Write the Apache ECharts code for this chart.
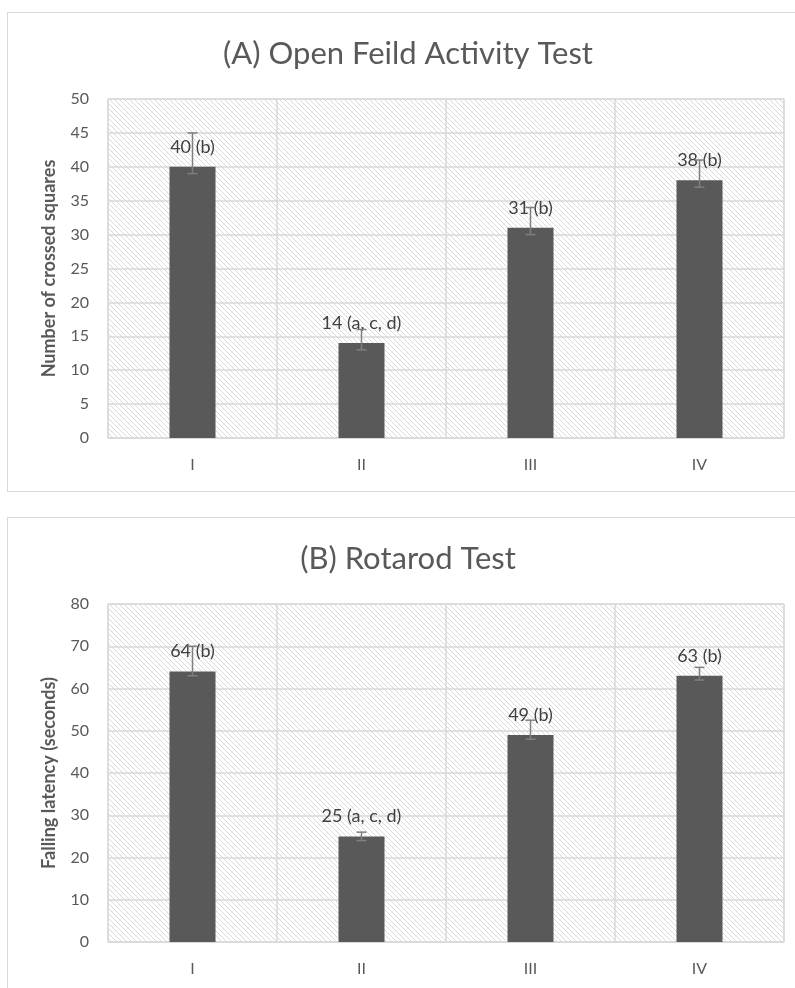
<!DOCTYPE html>
<html>
<head>
<meta charset="utf-8">
<script src="https://cdn.jsdelivr.net/npm/echarts@6/dist/echarts.min.js"></script>
<style>
  html, body { margin: 0; padding: 0; background: #fff; overflow: hidden; width: 795px; height: 988px; }
  .box { position: absolute; left: 7px; width: 800px; height: 478px; border: 1px solid #d9d9d9; }
  .chart { width: 800px; height: 478px; }
</style>
</head>
<body>
<div class="box" style="top:12px"><div id="chartA" class="chart"></div></div>
<div class="box" style="top:517px"><div id="chartB" class="chart"></div></div>
<script>
const categories = ['I', 'II', 'III', 'IV'];

// (A) 旷场试验
const openFieldValues = [40, 14, 31, 38];
const openFieldLabels = ['40 (b)', '14 (a, c, d)', '31 (b)', '38 (b)'];
const openFieldErrLow = [39, 13, 30, 37];
const openFieldErrHigh = [45, 16, 34, 41];

// (B) 转棒试验
const rotarodValues = [64, 25, 49, 63];
const rotarodLabels = ['64 (b)', '25 (a, c, d)', '49 (b)', '63 (b)'];
const rotarodErrLow = [63, 24, 48, 62];
const rotarodErrHigh = [70, 26, 52.5, 65];

// 斜线底纹
const makeHatch = () => {
    const n = 5;
    const c = document.createElement('canvas');
    c.width = n;
    c.height = n;
    const ctx = c.getContext('2d');
    ctx.fillStyle = '#fff';
    ctx.fillRect(0, 0, n, n);
    ctx.fillStyle = '#dadada';
    for (let i = 0; i < n; i++) ctx.fillRect(i, i, 1, 1);
    return { image: c, repeat: 'repeat' };
};

const fontFamily = 'Lato, "Open Sans", sans-serif';

const makeOption = (title, yName, values, labels, low, high, max, interval) => ({
    animation: false,
    textStyle: { fontFamily: fontFamily },
    title: {
        text: title,
        left: 'center',
        top: 20,
        textStyle: { fontFamily: fontFamily, fontSize: 31, fontWeight: 'normal', color: '#595959' }
    },
    grid: {
        show: true,
        left: 100,
        top: 86,
        width: 676,
        height: 339,
        borderColor: '#d9d9d9',
        borderWidth: 1,
        backgroundColor: makeHatch()
    },
    xAxis: {
        type: 'category',
        data: categories,
        axisTick: { show: false },
        axisLine: { lineStyle: { color: '#d9d9d9', width: 1 } },
        axisLabel: { color: '#595959', fontSize: 16, margin: 19 },
        splitLine: { show: true, lineStyle: { color: '#d9d9d9', width: 1.5 } }
    },
    yAxis: {
        type: 'value',
        min: 0,
        max: max,
        interval: interval,
        name: yName,
        nameLocation: 'middle',
        nameGap: 50,
        nameTextStyle: { color: '#595959', fontSize: 18, fontWeight: 'bold' },
        axisLine: { show: false },
        axisTick: { show: false },
        axisLabel: { color: '#595959', fontSize: 16, margin: 19 },
        splitLine: { lineStyle: { color: '#d9d9d9', width: 1.5 } }
    },
    series: [
        {
            type: 'bar',
            data: values,
            barWidth: 46,
            itemStyle: { color: '#595959' },
            label: {
                show: true,
                position: 'top',
                distance: 11,
                color: '#404040',
                fontSize: 18,
                formatter: (p) => labels[p.dataIndex]
            },
            z: 2
        },
        {
            type: 'custom',
            data: categories.map((c, i) => [i, low[i], high[i]]),
            z: 3,
            renderItem: (params, api) => {
                const lo = api.coord([api.value(0), api.value(1)]);
                const hi = api.coord([api.value(0), api.value(2)]);
                const half = 5;
                const style = { stroke: '#7f7f7f', lineWidth: 1.5 };
                return {
                    type: 'group',
                    children: [
                        { type: 'line', shape: { x1: lo[0], y1: lo[1], x2: hi[0], y2: hi[1] }, style: style },
                        { type: 'line', shape: { x1: lo[0] - half, y1: lo[1], x2: lo[0] + half, y2: lo[1] }, style: style },
                        { type: 'line', shape: { x1: hi[0] - half, y1: hi[1], x2: hi[0] + half, y2: hi[1] }, style: style }
                    ]
                };
            }
        }
    ]
});

const chartA = echarts.init(document.getElementById('chartA'));
chartA.setOption(makeOption('(A) Open Feild Activity Test', 'Number of crossed squares',
    openFieldValues, openFieldLabels, openFieldErrLow, openFieldErrHigh, 50, 5));

const chartB = echarts.init(document.getElementById('chartB'));
const optB = makeOption('(B) Rotarod Test', 'Falling latency (seconds)',
    rotarodValues, rotarodLabels, rotarodErrLow, rotarodErrHigh, 80, 10);
optB.grid.height = 338;
chartB.setOption(optB);
</script>
</body>
</html>
